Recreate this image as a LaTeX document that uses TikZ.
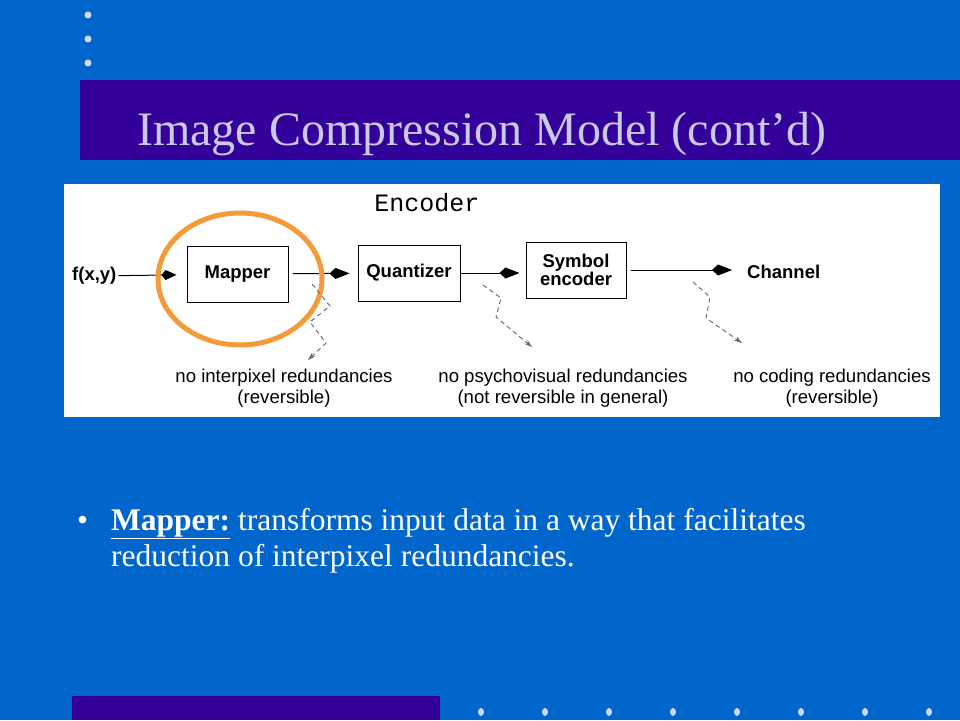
\documentclass[tikz,border=0pt]{standalone}
\usepackage{fontspec}
\setmainfont{Liberation Serif}
\setsansfont{Liberation Sans}
\setmonofont{Liberation Mono}
\usetikzlibrary{arrows.meta,positioning}

\definecolor{slideblue}{HTML}{0066CC}
\definecolor{bandpurple}{HTML}{330099}
\definecolor{titlegray}{HTML}{CACAE8}
\definecolor{dotgray}{HTML}{D2D8E6}
\definecolor{ringorange}{HTML}{F59A38}

\tikzset{
  block/.style={draw, line width=1pt, minimum width=101pt, minimum height=56pt,
                inner sep=2pt, align=center, font=\sffamily\bfseries\fontsize{18.5}{20}\selectfont},
  label/.style={inner sep=0pt, font=\sffamily\bfseries\fontsize{18.5}{20}\selectfont},
  flow/.style={-{Kite[length=20pt,width=11pt,inset=6pt]}, line width=1pt},
  note/.style={inner sep=0pt, align=center, font=\sffamily\fontsize{18.6}{21}\selectfont},
  hint/.style={dashed, dash pattern=on 4.5pt off 3.5pt, black!60, line width=0.9pt,
               -{Stealth[length=8pt,width=5pt]}},
  bullettext/.style={inner sep=0pt, anchor=base west, text=white,
                     font=\fontsize{31.5}{36}\selectfont},
}

\begin{document}
\begin{tikzpicture}[x=1pt,y=-1pt]
  \useasboundingbox (0,0) rectangle (960,720);
  % slide background
  \fill[slideblue] (0,0) rectangle (960,720);
  \fill[bandpurple] (80,80) rectangle (960,160);
  \fill[bandpurple] (72,696) rectangle (440,720);
  \foreach \y in {15,39,63}
    \fill[dotgray] (88,\y) circle (3.5);
  \foreach \i in {0,...,7}
    \fill[dotgray] (481+64*\i,712) ellipse (3 and 4);

  \node[inner sep=0pt, anchor=base west, text=titlegray, font=\fontsize{48}{56}\selectfont]
    (title) at (137,145) {Image Compression Model (cont’d)};

  % the encoder figure
  \fill[white] (64,184) rectangle (940,417);
  \node[inner sep=0pt, font=\ttfamily\fontsize{25}{28}\selectfont] (enc) at (427,203) {Encoder};

  \node[label, anchor=west] (fxy) at (72,276) {f(x,y)};
  \node[block] (mapper) at (237.5,274) {Mapper};
  \node[block, minimum width=102pt] (quant) at (409,273) {Quantizer};
  \node[block, minimum width=100pt] (symbol) at (576,270) {Symbol\\[-2pt]encoder};
  \node[label, anchor=west] (channel) at (747,272) {Channel};

  \draw[flow, -{Kite[length=15pt,width=10pt,inset=4pt]}, shorten <=2pt, shorten >=10pt] (fxy) -- (mapper);
  \draw[flow, shorten <=4pt, shorten >=8pt] (mapper) -- (quant);
  \draw[flow, shorten >=6pt] (quant.east) -- (symbol.west |- quant.east);
  \draw[flow, shorten <=4pt, shorten >=15pt] (symbol.east) -- (channel.west |- symbol.east);

  \draw[ringorange, line width=5pt] (240,279) ellipse [x radius=82, y radius=66];

  \node[note] (lossmap) at (284,388) {no interpixel redundancies\\(reversible)};
  \node[note] (lossquant) at (563,388) {no psychovisual redundancies\\(not reversible in general)};
  \node[note] (losssym) at (832,388) {no coding redundancies\\(reversible)};

  % dashed zig-zag pointers
  \coordinate (z1s) at (312,284);
  \coordinate (z1e) at (308,360);
  \coordinate (z2s) at (483,285);
  \coordinate (z2e) at (532,347);
  \coordinate (z3s) at (693,282);
  \coordinate (z3e) at (742,343);
  \draw[hint] (z1s) -- ++(18,22) -- ++(-20,16) -- ++(16,21) -- (z1e);
  \draw[hint] (z2s) -- ++(18,13) -- ++(-5,19) -- (z2e);
  \draw[hint] (z3s) -- ++(17,15) -- ++(-4,21) -- (z3e);

  % bullet
  \node[bullettext] (bul) at (77,530) {•};
  \node[bullettext] (line1) at (111,530) {\textbf{\underline{Mapper:}} transforms input data in a way that facilitates};
  \node[bullettext] (line2) at (111,566) {reduction of interpixel redundancies.};
\end{tikzpicture}
\end{document}
